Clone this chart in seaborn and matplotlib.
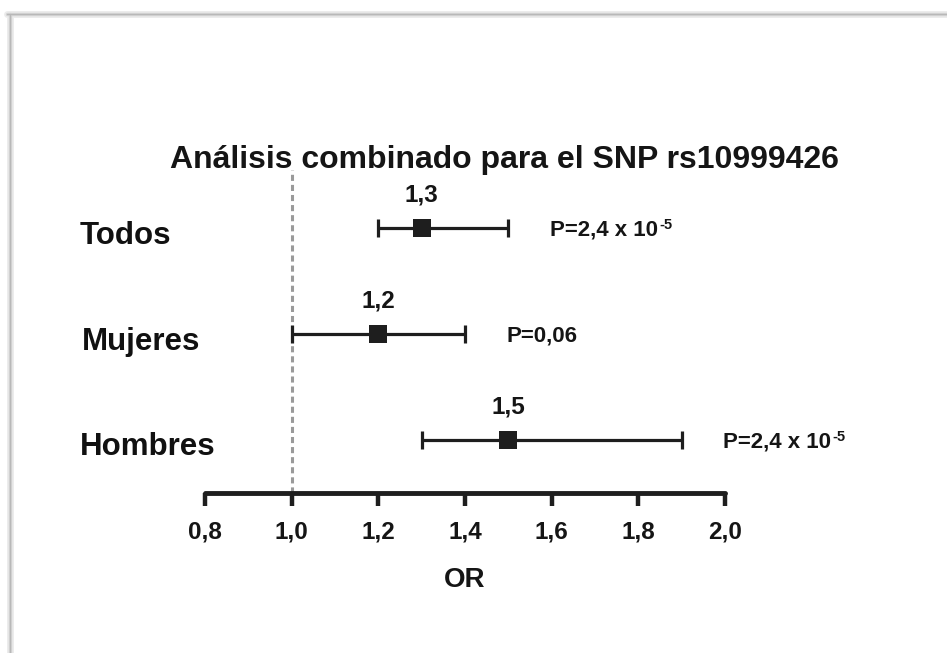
import matplotlib
matplotlib.use("Agg")
import matplotlib.pyplot as plt
import matplotlib.lines as mlines
import matplotlib.transforms as mtransforms
import seaborn as sns
import pandas as pd

# ---- data ----
groups = ["Todos", "Mujeres", "Hombres"]
or_values = [1.3, 1.2, 1.5]
ci_low = [1.2, 1.0, 1.3]
ci_high = [1.5, 1.4, 1.9]
value_labels = ["1,3", "1,2", "1,5"]
p_labels = ["P=2,4 x 10", "P=0,06", "P=2,4 x 10"]
p_exponents = ["-5", "", "-5"]
x_ticks = [0.8, 1.0, 1.2, 1.4, 1.6, 1.8, 2.0]
x_tick_labels = ["0,8", "1,0", "1,2", "1,4", "1,6", "1,8", "2,0"]
title = "Análisis combinado para el SNP rs10999426"
x_label = "OR"

sns.set_theme(style="white")
plt.rcParams["font.family"] = ["Liberation Sans", "DejaVu Sans"]

W, H = 947, 653
fig = plt.figure(figsize=(W / 100, H / 100), dpi=100)
fig.patch.set_facecolor("white")

# frame of the picture (top and left edges with soft shadow)
for lw, col in [(5, "#ececec"), (2.5, "#d6d6d6"), (1.0, "#b8b8b8")]:
    fig.add_artist(mlines.Line2D([7 / W, 1], [1 - 14 / H, 1 - 14 / H], color=col, lw=lw))
    fig.add_artist(mlines.Line2D([10 / W, 10 / W], [0, 1 - 14 / H], color=col, lw=lw))

ax = fig.add_axes([205 / W, (H - 493) / H, 520 / W, 323 / H])
ax.set_facecolor("none")

ypos = [2, 1, 0]
df = pd.DataFrame({"group": groups, "OR": or_values, "lo": ci_low, "hi": ci_high, "y": ypos})

dark = "#1e1e1e"
# confidence intervals
ax.errorbar(df["OR"], df["y"],
            xerr=[df["OR"] - df["lo"], df["hi"] - df["OR"]],
            fmt="none", ecolor=dark, elinewidth=2.3, capsize=6.5, capthick=2.3, zorder=2)
# point estimates
sns.scatterplot(data=df, x="OR", y="y", marker="s", s=170, color=dark,
                edgecolor=dark, linewidth=0, ax=ax, zorder=3, legend=False)

# reference line at OR = 1
ax.axvline(1.0, color="#9a9a9a", lw=2.2, ls=(0, (2.0, 1.3)), zorder=1)

ax.set_xlim(0.8, 2.0)
ax.set_ylim(-0.5, 2.55)
ax.set_xticks(x_ticks)
ax.set_xticklabels(x_tick_labels, fontsize=17.5, fontweight="bold", color="#151515")
ax.set_yticks([])
ax.set_xlabel(x_label, fontsize=20, fontweight="bold", labelpad=17, color="#151515")
ax.set_ylabel("")
for s in ["left", "top", "right"]:
    ax.spines[s].set_visible(False)
ax.spines["bottom"].set_linewidth(3.5)
ax.spines["bottom"].set_color(dark)
ax.spines["bottom"].set_capstyle("round")
ax.tick_params(axis="x", direction="out", length=9, width=3.2, color=dark, pad=11, bottom=True)

# title
fig.text(504 / W, 1 - 160 / H, title, ha="center", va="center",
         fontsize=23, fontweight="bold", color="#151515")

# row labels, value labels and p values
label_x = [-0.241, -0.236, -0.241]
trans = mtransforms.blended_transform_factory(ax.transAxes, ax.transData)
for y, g, lx, o, hi, vl, pl, pe in zip(ypos, groups, label_x, or_values, ci_high,
                                        value_labels, p_labels, p_exponents):
    ax.text(lx, y - 0.07, g, transform=trans, ha="left", va="center",
            fontsize=22.5, fontweight="bold", color="#111111")
    ax.text(o, y + 0.31, vl, ha="center", va="center", fontsize=17.5,
            fontweight="bold", color="#151515")
    t = ax.text(hi + 0.095, y - 0.02, pl, ha="left", va="center", fontsize=16,
                fontweight="bold", color="#151515")
    if pe:
        ax.annotate(pe, xy=(1, 1), xycoords=t, xytext=(1, 1), textcoords="offset points",
                    ha="left", va="top", fontsize=10.5, fontweight="bold", color="#151515")

fig.savefig("out.png", dpi=100, facecolor="white")
